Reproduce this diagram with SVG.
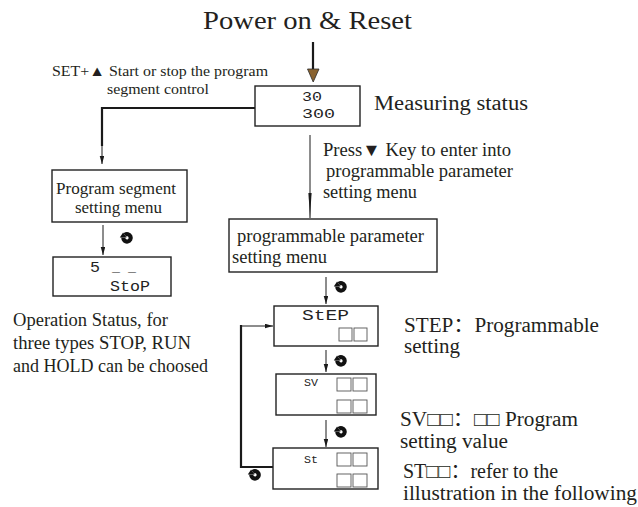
<svg xmlns="http://www.w3.org/2000/svg" xmlns:xlink="http://www.w3.org/1999/xlink" width="638" height="507" viewBox="0 0 638 507">
<style>
.t{font-family:"Liberation Serif","Noto Sans CJK SC",serif;fill:#231f20}
.d{font-family:"Liberation Mono","DejaVu Sans Mono",monospace;fill:#222}
.box{fill:#fff;stroke:#222;stroke-width:1.4}
.sq{fill:none;stroke:#555;stroke-width:0.9}
.thick{fill:none;stroke:#1a1a1a;stroke-width:2.2}
.thin{fill:none;stroke:#1a1a1a;stroke-width:1}
</style>
<defs>
<marker id="ah" markerUnits="userSpaceOnUse" markerWidth="9" markerHeight="5" refX="8.5" refY="2.4" orient="auto">
<path d="M0,0 L8.5,2.4 L0,4.8 Z" fill="#1a1a1a"/>
</marker>
<marker id="ahl" markerUnits="userSpaceOnUse" markerWidth="26" markerHeight="5" refX="25" refY="2.2" orient="auto">
<path d="M0,0.6 L25,2.2 L0,3.8 Z" fill="#1a1a1a"/>
</marker>
<g id="rot">
<path d="M-2.2,-3.1 A3.7,3.7 0 1 1 -3.7,-0.3" fill="none" stroke="#111" stroke-width="4.2"/>
<path d="M-7.2,-0.4 L-0.4,-0.4 L-3.9,-5.4 Z" fill="#111"/>
</g>
</defs>
<rect width="638" height="507" fill="#fff"/>

<text class="t" x="203" y="29" font-size="25" textLength="209" lengthAdjust="spacingAndGlyphs">Power on &amp; Reset</text>

<g id="connectors">
<line class="thick" x1="313" y1="42" x2="313" y2="70"/>
<polygon points="307.5,69 319,69 313.2,82" fill="#8a6330" stroke="#2b2b2b" stroke-width="0.8"/>
<polyline class="thick" points="255,108 102,108 102,146"/>
<line class="thin" x1="102" y1="145" x2="102" y2="164" marker-end="url(#ah)"/>
<line class="thin" x1="310" y1="135" x2="310" y2="218" marker-end="url(#ahl)"/>
<line class="thin" x1="103" y1="225" x2="103" y2="255" marker-end="url(#ah)"/>
<line class="thin" x1="326" y1="277" x2="326" y2="304" marker-end="url(#ah)"/>
<line class="thin" x1="326" y1="350" x2="326" y2="372" marker-end="url(#ah)"/>
<line class="thin" x1="326" y1="420" x2="326" y2="447" marker-end="url(#ah)"/>
<polyline class="thick" points="273,467 241,467 241,325"/>
<line class="thin" x1="241" y1="326" x2="273" y2="326" marker-end="url(#ah)"/>
<use xlink:href="#rot" href="#rot" x="127" y="238"/>
<use xlink:href="#rot" href="#rot" x="341" y="287"/>
<use xlink:href="#rot" href="#rot" x="341" y="361"/>
<use xlink:href="#rot" href="#rot" x="341" y="432"/>
<use xlink:href="#rot" href="#rot" x="255" y="475"/>
</g>

<g id="set-note">
<text class="t" x="52" y="76" font-size="14.5" textLength="216" lengthAdjust="spacingAndGlyphs">SET+▲ Start or stop the program</text>
<text class="t" x="107" y="94" font-size="14.5" textLength="102" lengthAdjust="spacingAndGlyphs">segment control</text>
</g>

<g id="measuring">
<rect class="box" x="255" y="86" width="105" height="40"/>
<text class="d" x="302" y="101" font-size="13" textLength="20" lengthAdjust="spacingAndGlyphs">30</text>
<text class="d" x="302" y="118" font-size="13" textLength="33" lengthAdjust="spacingAndGlyphs">300</text>
<text class="t" x="374" y="110" font-size="20" textLength="154" lengthAdjust="spacingAndGlyphs">Measuring status</text>
</g>

<g id="press-note">
<text class="t" x="323" y="156" font-size="18" textLength="188" lengthAdjust="spacingAndGlyphs">Press▼ Key to enter into</text>
<text class="t" x="326" y="177" font-size="18" textLength="187" lengthAdjust="spacingAndGlyphs">programmable parameter</text>
<text class="t" x="323" y="198" font-size="18" textLength="94" lengthAdjust="spacingAndGlyphs">setting menu</text>
</g>

<g id="program-segment">
<rect class="box" x="52" y="170" width="135" height="52"/>
<text class="t" x="56" y="194" font-size="17" textLength="120" lengthAdjust="spacingAndGlyphs">Program segment</text>
<text class="t" x="75" y="213" font-size="17" textLength="87" lengthAdjust="spacingAndGlyphs">setting menu</text>
</g>

<g id="stop-display">
<rect class="box" x="53" y="257" width="118" height="39"/>
<text class="d" x="90" y="272" font-size="15" textLength="10" lengthAdjust="spacingAndGlyphs">5</text>
<text class="d" x="112" y="271" font-size="15" textLength="24" lengthAdjust="spacingAndGlyphs">_ _</text>
<text class="d" x="110" y="291" font-size="15" textLength="40" lengthAdjust="spacingAndGlyphs">StoP</text>
</g>

<g id="operation-note">
<text class="t" x="13" y="326" font-size="18" textLength="155" lengthAdjust="spacingAndGlyphs">Operation Status, for</text>
<text class="t" x="13" y="349" font-size="18" textLength="178" lengthAdjust="spacingAndGlyphs">three types STOP, RUN</text>
<text class="t" x="13" y="372" font-size="18" textLength="195" lengthAdjust="spacingAndGlyphs">and HOLD can be choosed</text>
</g>

<g id="programmable-param">
<rect class="box" x="229" y="219" width="208" height="53"/>
<text class="t" x="237" y="242" font-size="18" textLength="187" lengthAdjust="spacingAndGlyphs">programmable parameter</text>
<text class="t" x="232" y="263" font-size="18" textLength="95" lengthAdjust="spacingAndGlyphs">setting menu</text>
</g>

<g id="step">
<rect class="box" x="274" y="306" width="104" height="40"/>
<text class="d" x="302" y="320" font-size="14" textLength="47" lengthAdjust="spacingAndGlyphs">StEP</text>
<rect class="sq" x="339" y="328" width="13" height="13"/>
<rect class="sq" x="354" y="328" width="13" height="13"/>
<text class="t" x="404" y="332" font-size="20" textLength="195" lengthAdjust="spacingAndGlyphs">STEP：Programmable</text>
<text class="t" x="404" y="353" font-size="20" textLength="56" lengthAdjust="spacingAndGlyphs">setting</text>
</g>

<g id="sv">
<rect class="box" x="276" y="374" width="100" height="41"/>
<text class="d" x="304" y="386" font-size="11" textLength="14" lengthAdjust="spacingAndGlyphs">SV</text>
<rect class="sq" x="337" y="378" width="14" height="13"/>
<rect class="sq" x="353" y="378" width="14" height="13"/>
<rect class="sq" x="337" y="400" width="14" height="13"/>
<rect class="sq" x="353" y="400" width="14" height="13"/>
<text class="t" x="400" y="426" font-size="20" textLength="178" lengthAdjust="spacingAndGlyphs">SV□□：□□ Program</text>
<text class="t" x="400" y="448" font-size="20" textLength="108" lengthAdjust="spacingAndGlyphs">setting value</text>
</g>

<g id="st">
<rect class="box" x="273" y="448" width="105" height="41"/>
<text class="d" x="304" y="463" font-size="11" textLength="14" lengthAdjust="spacingAndGlyphs">St</text>
<rect class="sq" x="337" y="453" width="14" height="13"/>
<rect class="sq" x="353" y="453" width="14" height="13"/>
<rect class="sq" x="337" y="474" width="14" height="13"/>
<rect class="sq" x="353" y="474" width="14" height="13"/>
<text class="t" x="403" y="478" font-size="20" textLength="155" lengthAdjust="spacingAndGlyphs">ST□□：refer to the</text>
<text class="t" x="403" y="500" font-size="20" textLength="234" lengthAdjust="spacingAndGlyphs">illustration in the following</text>
</g>
</svg>
